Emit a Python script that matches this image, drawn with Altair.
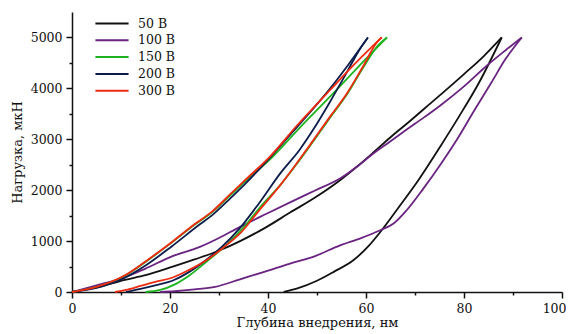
import altair as alt
import pandas as pd

series = ["50 В", "100 В", "150 В", "200 В", "300 В"]
colors = ["#111111", "#6a2381", "#1fb21f", "#0c1d4c", "#ee2a10"]

# loading branches (depth nm, load µN)
load_x = {
    "50 В": [0, 5, 10.8, 15, 20.4, 25, 30.2, 34.3, 39.4, 44.5, 50, 54.7, 58, 61.5, 65, 68.5, 72, 76, 80, 84, 87.7],
    "100 В": [0, 5, 10.8, 15, 20.4, 26.1, 30, 34.3, 39.8, 44.5, 49.5, 54.7, 58, 61.5, 65, 68.3, 71.7, 75.1, 80, 84.7, 88.5, 91.8],
    "150 В": [0, 5, 10.8, 15, 20.4, 25, 28.5, 32.3, 35.3, 41, 46.5, 52.7, 58, 64.3],
    "200 В": [0, 5, 10.8, 15, 20.4, 26.1, 28.5, 32.3, 35.3, 40.4, 46, 52.7, 56.5, 60.4],
    "300 В": [0, 5, 10.8, 15, 20.4, 25, 28.5, 32.3, 35.3, 40.4, 46, 52.7, 57.5, 63.2],
}
load_y = {
    "50 В": [0, 90, 240, 330, 492, 640, 820, 1000, 1260, 1560, 1880, 2196, 2450, 2740, 3040, 3320, 3610, 3940, 4280, 4630, 5000],
    "100 В": [0, 130, 290, 460, 700, 885, 1060, 1280, 1541, 1760, 1990, 2229, 2450, 2720, 2960, 3190, 3420, 3660, 4040, 4450, 4750, 5000],
    "150 В": [0, 100, 320, 590, 975, 1320, 1560, 1900, 2170, 2661, 3230, 3841, 4380, 5000],
    "200 В": [0, 80, 280, 520, 900, 1330, 1500, 1840, 2120, 2640, 3250, 4000, 4480, 5000],
    "300 В": [0, 100, 328, 600, 983, 1330, 1573, 1921, 2196, 2661, 3280, 3970, 4460, 5000],
}
# unloading branches, listed from residual depth up to the peak
unload_x = {
    "50 В": [43.2, 46, 50, 53.5, 57.4, 60.5, 63.2, 66.5, 70, 75.1, 79, 83, 87.7],
    "100 В": [18, 21, 25, 29.2, 34.3, 39.4, 44.5, 49.5, 54.7, 59, 62.9, 65.7, 68.3, 71.7, 75.1, 78.6, 82, 85.5, 88.5, 91.8],
    "150 В": [15, 18, 21, 24, 27.5, 31, 35.3, 38.5, 42.5, 45.5, 48.5, 52.7, 56.1, 59.5, 62.5, 64.3],
    "200 В": [11, 14, 17, 20.7, 24, 27.5, 30.5, 34.3, 38, 42.5, 46.5, 49.3, 52.7, 56, 58.8, 60.4],
    "300 В": [8.8, 11, 14, 17, 20.7, 24, 27.5, 31, 34.3, 38, 42.5, 45.5, 48.5, 52.7, 56.1, 59.5, 62.2, 63.2],
}
unload_y = {
    "50 В": [0, 70, 220, 400, 623, 900, 1213, 1640, 2100, 2850, 3450, 4100, 5000],
    "100 В": [0, 15, 50, 100, 250, 400, 557, 700, 917, 1060, 1213, 1350, 1606, 2030, 2490, 3000, 3550, 4100, 4580, 5000],
    "150 В": [0, 40, 150, 330, 600, 880, 1300, 1680, 2100, 2470, 2860, 3430, 3880, 4420, 4850, 5000],
    "200 В": [0, 60, 130, 230, 400, 640, 880, 1260, 1720, 2330, 2800, 3200, 3743, 4300, 4780, 5000],
    "300 В": [0, 40, 120, 200, 290, 440, 630, 880, 1150, 1580, 2100, 2480, 2880, 3450, 3900, 4450, 4900, 5000],
}

rows = []
for s in series:
    for i, (xv, yv) in enumerate(zip(load_x[s], load_y[s])):
        rows.append({"series": s, "branch": s + " load", "i": i, "x": xv, "y": yv})
    for i, (xv, yv) in enumerate(zip(unload_x[s], unload_y[s])):
        rows.append({"series": s, "branch": s + " unload", "i": i, "x": xv, "y": yv})
df = pd.DataFrame(rows)

x_ticks = list(range(0, 101, 10))
y_ticks = list(range(0, 5001, 500))

chart = alt.Chart(df).mark_line(strokeWidth=1.8, interpolate="monotone").encode(
    x=alt.X("x:Q", scale=alt.Scale(domain=[0, 100], nice=False),
            axis=alt.Axis(title="Глубина внедрения, нм", values=x_ticks,
                          labelExpr="datum.value % 20 === 0 ? datum.label : ''",
                          tickSize={"condition": {"test": "datum.value % 20 === 0", "value": 6}, "value": 3},
                          labelFlush=True, labelFlushOffset=4, labelPadding=4, titlePadding=2)),
    y=alt.Y("y:Q", scale=alt.Scale(domain=[0, 5500], nice=False),
            axis=alt.Axis(title="Нагрузка, мкН", values=y_ticks, format="d",
                          labelExpr="datum.value % 1000 === 0 ? datum.label : ''",
                          tickSize={"condition": {"test": "datum.value % 1000 === 0", "value": 6}, "value": 3},
                          labelFlush=False, labelPadding=4, titlePadding=6)),
    color=alt.Color("series:N", scale=alt.Scale(domain=series, range=colors),
                    sort=series,
                    legend=alt.Legend(title=None, orient="none", legendX=22, legendY=5,
                                      symbolType="stroke", symbolSize=1100, symbolStrokeWidth=2,
                                      clipHeight=13, rowPadding=3.8, labelOffset=8,
                                      labelFont="DejaVu Serif", labelFontSize=12.5, labelColor="#111")),
    detail="branch:N",
    order="i:Q",
).properties(
    width=490, height=280,
    autosize=alt.AutoSizeParams(type="none"),
    padding={"left": 64, "top": 4, "right": 4, "bottom": 42},
).configure_view(stroke=None).configure_axis(
    grid=False, domainColor="#111", domainWidth=1.5, tickColor="#111", tickWidth=1.5,
    labelFont="DejaVu Serif", labelFontSize=12.5, labelColor="#111",
    titleFont="DejaVu Serif", titleFontSize=13, titleFontWeight="normal", titleColor="#111",
)

chart.save("out.html", embed_options={"renderer": "svg", "actions": False})
